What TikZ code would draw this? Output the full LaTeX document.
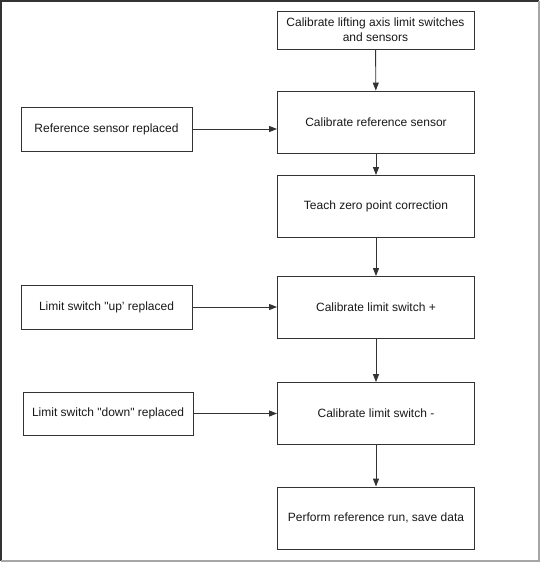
\documentclass[tikz,border=0pt]{standalone}
\usepackage{fontspec}
\setmainfont{Liberation Sans}
\usetikzlibrary{arrows.meta}
\begin{document}
\begin{tikzpicture}[x=1pt,y=-1pt,
  box/.style={draw=black!80, line width=0.9pt, minimum width=197pt, minimum height=62pt, align=center, inner sep=0pt, font=\fontsize{12}{15}\selectfont, text=black!90},
  sidebox/.style={draw=black!80, line width=0.9pt, minimum width=171pt, minimum height=44pt, align=center, inner sep=0pt, font=\fontsize{12}{15}\selectfont, text=black!90},
  arr/.style={draw=black!80, line width=0.9pt, -{Triangle[length=8pt,width=6pt]}}]
\useasboundingbox (0,0) rectangle (541,563);
\fill[white] (0,0) rectangle (541,563);
\draw[black!80, line width=1.5pt] (1,561) -- (1,1) -- (539,1);
\draw[black!35, line width=1.2pt] (539,1) -- (539,561) -- (1,561);
\node[box, minimum height=38pt] (A) at (375.5,30) {Calibrate lifting axis limit switches\\and sensors};
\node[box] (B) at (376,122) {Calibrate reference sensor};
\node[box] (C) at (376,206.5) {Teach zero point correction};
\node[box] (D) at (376,307.5) {Calibrate limit switch +};
\node[box] (E) at (376,413.5) {Calibrate limit switch -};
\node[box] (F) at (376,518) {Perform reference run, save data};
\node[sidebox] (L1) at (106.5,129) {Reference sensor replaced};
\node[sidebox] (L2) at (106.5,307) {Limit switch \textquotedbl up' replaced};
\node[sidebox, minimum width=170pt, minimum height=43pt] (L3) at (108,413.5) {Limit switch \textquotedbl down\textquotedbl{} replaced};
\draw[arr] (A) -- (B);
\draw[arr] (B) -- (C);
\draw[arr] (C) -- (D);
\draw[arr] (D) -- (E);
\draw[arr] (E) -- (F);
\draw[arr] (L1.east) -- (L1.east -| B.west);
\draw[arr] (L2.east) -- (L2.east -| D.west);
\draw[arr] (L3.east) -- (L3.east -| E.west);
\end{tikzpicture}
\end{document}
